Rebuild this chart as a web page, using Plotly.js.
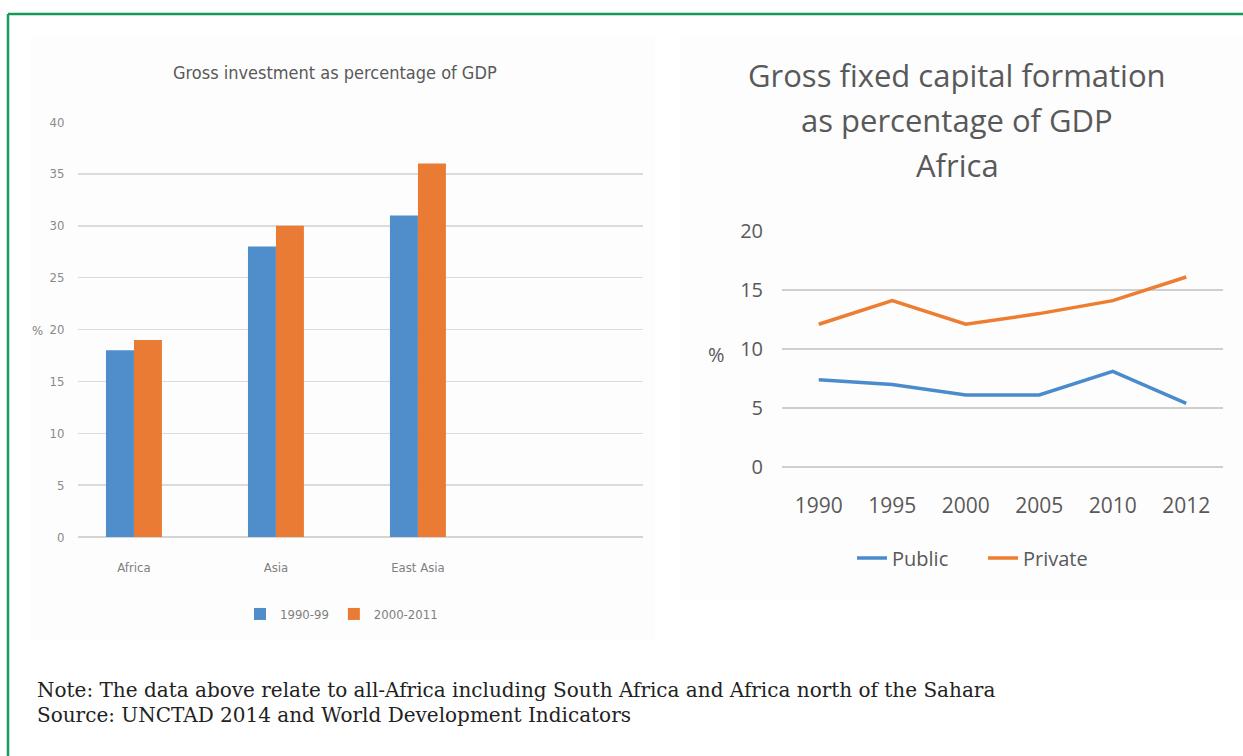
<!DOCTYPE html>
<html>
<head>
<meta charset="utf-8">
<script src="https://cdn.plot.ly/plotly-3.0.1.min.js"></script>
<style>
html,body{margin:0;padding:0;background:#fff;}
#chart{width:1243px;height:756px;}
</style>
</head>
<body>
<div id="chart"></div>
<script>
// ---- Left chart data ----
const regions = ["Africa", "Asia", "East Asia"];
const period1Label = "1990-99";
const period2Label = "2000-2011";
const invest1990s = [18, 28, 31];
const invest2000s = [19, 30, 36];

// ---- Right chart data ----
const years = ["1990", "1995", "2000", "2005", "2010", "2012"];
const publicGFCF = [7.4, 7.0, 6.1, 6.1, 8.1, 5.4];
const privateGFCF = [12.1, 14.1, 12.1, 13.0, 14.1, 16.1];

const leftTicks = [0, 5, 10, 15, 20, 25, 30, 35, 40];
const rightTicks = [0, 5, 10, 15, 20];

const W = 1243, H = 756;
const px = x => x / W;
const py = y => 1 - y / H;

const narrow = "Liberation Sans Narrow, DejaVu Sans Condensed, Arial Narrow, sans-serif";
const calib = "Open Sans, Lato, sans-serif";
const serif = "DejaVu Serif, Liberation Serif, serif";

const traces = [
  {type: "bar", x: regions, y: invest1990s, name: period1Label, xaxis: "x", yaxis: "y",
   marker: {color: "#4f8dcb"}, legend: "legend", hoverinfo: "skip"},
  {type: "bar", x: regions, y: invest2000s, name: period2Label, xaxis: "x", yaxis: "y",
   marker: {color: "#ea7b35"}, legend: "legend", hoverinfo: "skip"},
  {type: "scatter", mode: "lines", x: years, y: publicGFCF, name: "Public", xaxis: "x2", yaxis: "y2",
   line: {color: "#4a8ccb", width: 3.5}, legend: "legend2"},
  {type: "scatter", mode: "lines", x: years, y: privateGFCF, name: "Private", xaxis: "x2", yaxis: "y2",
   line: {color: "#ed7d31", width: 3.5}, legend: "legend2"}
];

const layout = {
  width: W, height: H,
  margin: {l: 0, r: 0, t: 0, b: 0},
  paper_bgcolor: "#ffffff",
  plot_bgcolor: "rgba(0,0,0,0)",
  barmode: "group",
  bargap: 0.606,
  bargroupgap: 0,
  showlegend: true,
  xaxis: {
    domain: [px(78), px(643)], anchor: "y", type: "category",
    range: [-0.394, 3.585], showgrid: false, zeroline: false,
    showline: false, ticks: "outside", ticklen: 18, tickcolor: "rgba(0,0,0,0)",
    tickfont: {family: narrow, size: 13, color: "#7f7f7f"}, fixedrange: true
  },
  yaxis: {
    domain: [py(537), py(122)], anchor: "x", range: [0, 40],
    tickvals: leftTicks, showgrid: true, gridcolor: "#dcdcdc", gridwidth: 1.5,
    zeroline: true, zerolinecolor: "#d4d4d4", zerolinewidth: 1.5,
    ticks: "outside", ticklen: 10, tickcolor: "rgba(0,0,0,0)",
    tickfont: {family: narrow, size: 13, color: "#8a8a8a"}, fixedrange: true
  },
  xaxis2: {
    domain: [px(782), px(1223)], anchor: "y2", type: "category",
    range: [-0.5, 5.5], showgrid: false, zeroline: false, showline: false,
    ticks: "outside", ticklen: 20, tickcolor: "rgba(0,0,0,0)",
    tickfont: {family: calib, size: 21, color: "#595959"}, fixedrange: true
  },
  yaxis2: {
    domain: [py(467), py(231)], anchor: "x2", range: [0, 20],
    tickvals: rightTicks, showgrid: true, gridcolor: "#cfcfcf", gridwidth: 1.5,
    zeroline: true, zerolinecolor: "#cfcfcf", zerolinewidth: 1.5,
    ticks: "outside", ticklen: 14, tickcolor: "rgba(0,0,0,0)",
    tickfont: {family: calib, size: 20, color: "#595959"}, fixedrange: true
  },
  legend: {
    orientation: "h", x: px(240), y: py(614), xanchor: "left", yanchor: "middle",
    font: {family: narrow, size: 13, color: "#7f7f7f"}, itemwidth: 30,
    bgcolor: "rgba(0,0,0,0)", traceorder: "normal"
  },
  legend2: {
    orientation: "h", x: px(852), y: py(558), xanchor: "left", yanchor: "middle",
    font: {family: calib, size: 20, color: "#595959"}, itemwidth: 30,
    entrywidth: 86, entrywidthmode: "pixels",
    bgcolor: "rgba(0,0,0,0)", traceorder: "normal"
  },
  shapes: [
    {type: "rect", xref: "paper", yref: "paper", x0: px(30), x1: px(655), y0: py(640), y1: py(36),
     fillcolor: "#fdfdfd", line: {width: 0}, layer: "below"},
    {type: "rect", xref: "paper", yref: "paper", x0: px(680), x1: px(1243), y0: py(600), y1: py(36),
     fillcolor: "#fdfdfd", line: {width: 0}, layer: "below"},
    {type: "line", xref: "paper", yref: "paper", x0: px(8), x1: 1, y0: py(14), y1: py(14),
     line: {color: "#169a5c", width: 2.5}},
    {type: "line", xref: "paper", yref: "paper", x0: px(8), x1: px(8), y0: py(14), y1: 0,
     line: {color: "#169a5c", width: 2.5}}
  ],
  annotations: [
    {xref: "paper", yref: "paper", x: px(335), y: py(73), text: "Gross investment as percentage of GDP",
     showarrow: false, xanchor: "center", yanchor: "middle",
     font: {family: narrow, size: 18, color: "#595959"}},
    {xref: "paper", yref: "paper", x: px(37), y: py(330), text: "%",
     showarrow: false, xanchor: "center", yanchor: "middle",
     font: {family: narrow, size: 13, color: "#7f7f7f"}},
    {xref: "paper", yref: "paper", x: px(957), y: py(75), text: "Gross fixed capital formation",
     showarrow: false, xanchor: "center", yanchor: "middle",
     font: {family: calib, size: 31, color: "#595959"}},
    {xref: "paper", yref: "paper", x: px(957), y: py(120), text: "as percentage of GDP",
     showarrow: false, xanchor: "center", yanchor: "middle",
     font: {family: calib, size: 31, color: "#595959"}},
    {xref: "paper", yref: "paper", x: px(957), y: py(165), text: "Africa",
     showarrow: false, xanchor: "center", yanchor: "middle",
     font: {family: calib, size: 31, color: "#595959"}},
    {xref: "paper", yref: "paper", x: px(716), y: py(354), text: "%",
     showarrow: false, xanchor: "center", yanchor: "middle",
     font: {family: calib, size: 20, color: "#595959"}},
    {xref: "paper", yref: "paper", x: px(35), y: py(690),
     text: "Note: The data above relate to all-Africa including South Africa and Africa north of the Sahara",
     showarrow: false, xanchor: "left", yanchor: "middle",
     font: {family: serif, size: 20, color: "#222222"}},
    {xref: "paper", yref: "paper", x: px(35), y: py(715),
     text: "Source: UNCTAD 2014 and World Development Indicators",
     showarrow: false, xanchor: "left", yanchor: "middle",
     font: {family: serif, size: 20, color: "#222222"}}
  ]
};

Plotly.newPlot("chart", traces, layout, {displayModeBar: false, staticPlot: true});
</script>
</body>
</html>
